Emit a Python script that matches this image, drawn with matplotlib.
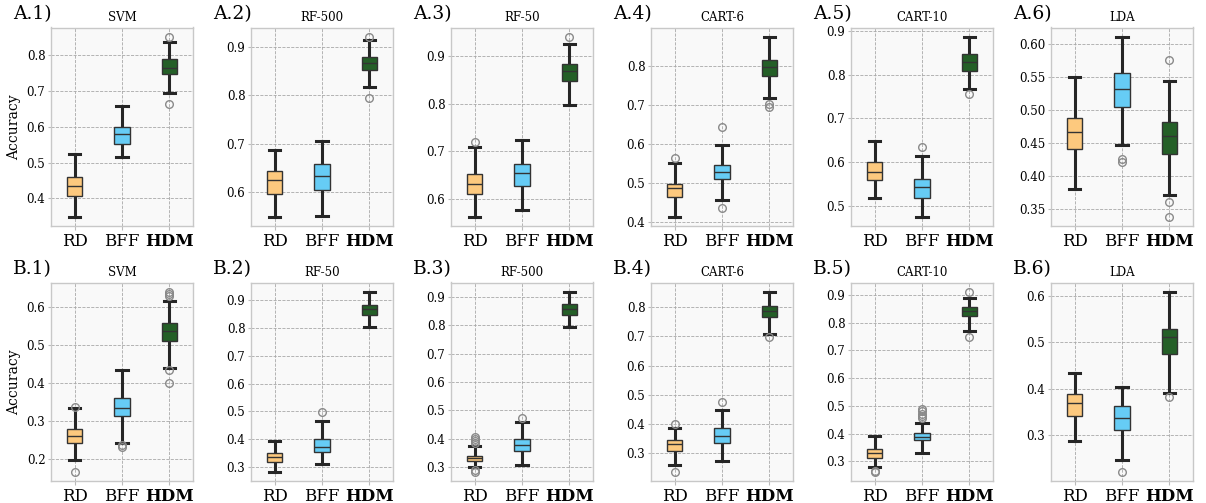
import matplotlib
matplotlib.use("Agg")
import matplotlib.pyplot as plt

plt.rcParams["font.family"] = ["DejaVu Serif"]

methods = ["RD", "BFF", "HDM"]
colors = ["#FDC97E", "#66CCF5", "#245F27"]

row_a_titles = ["SVM", "RF-500", "RF-50", "CART-6", "CART-10", "LDA"]
row_b_titles = ["SVM", "RF-50", "RF-500", "CART-6", "CART-10", "LDA"]

# five-number summaries per method: [whislo, q1, med, q3, whishi]
a1_stats = [[0.348, 0.407, 0.434, 0.461, 0.525], [0.516, 0.553, 0.580, 0.600, 0.659], [0.693, 0.748, 0.765, 0.789, 0.837]]
a1_fliers = [[], [], [0.852, 0.664]]
a2_stats = [[0.549, 0.597, 0.625, 0.644, 0.688], [0.552, 0.605, 0.633, 0.659, 0.705], [0.816, 0.852, 0.866, 0.879, 0.913]]
a2_fliers = [[], [], [0.921, 0.795]]
a3_stats = [[0.563, 0.610, 0.632, 0.652, 0.709], [0.577, 0.628, 0.654, 0.674, 0.723], [0.797, 0.848, 0.868, 0.883, 0.925]]
a3_fliers = [[0.719], [], [0.940]]
a4_stats = [[0.414, 0.464, 0.487, 0.499, 0.553], [0.457, 0.511, 0.530, 0.548, 0.599], [0.717, 0.775, 0.796, 0.815, 0.875]]
a4_fliers = [[0.564], [0.643, 0.438], [0.702, 0.696]]
a5_stats = [[0.518, 0.559, 0.577, 0.601, 0.648], [0.474, 0.517, 0.542, 0.562, 0.615], [0.768, 0.810, 0.830, 0.847, 0.888]]
a5_fliers = [[], [0.635], [0.755]]
a6_stats = [[0.381, 0.441, 0.467, 0.487, 0.550], [0.447, 0.504, 0.531, 0.556, 0.611], [0.372, 0.433, 0.461, 0.481, 0.543]]
a6_fliers = [[], [0.425, 0.421], [0.575, 0.360, 0.338]]

b1_stats = [[0.197, 0.244, 0.262, 0.280, 0.334], [0.242, 0.313, 0.334, 0.362, 0.434], [0.441, 0.512, 0.539, 0.558, 0.618]]
b1_fliers = [[0.337, 0.1665], [0.237, 0.231], [0.642, 0.636, 0.629, 0.434, 0.402]]
b2_stats = [[0.283, 0.320, 0.337, 0.350, 0.393], [0.312, 0.355, 0.374, 0.401, 0.466], [0.804, 0.845, 0.867, 0.883, 0.930]]
b2_fliers = [[], [0.498], []]
b3_stats = [[0.301, 0.322, 0.332, 0.341, 0.373], [0.306, 0.357, 0.379, 0.400, 0.460], [0.793, 0.836, 0.859, 0.876, 0.919]]
b3_fliers = [[0.406, 0.399, 0.391, 0.384, 0.290, 0.283], [0.472], []]
b4_stats = [[0.258, 0.307, 0.331, 0.344, 0.384], [0.270, 0.334, 0.357, 0.383, 0.445], [0.709, 0.767, 0.787, 0.805, 0.855]]
b4_fliers = [[0.400, 0.233], [0.473], [0.699]]
b5_stats = [[0.278, 0.313, 0.331, 0.343, 0.390], [0.331, 0.375, 0.387, 0.402, 0.439], [0.771, 0.823, 0.841, 0.857, 0.889]]
b5_fliers = [[0.266, 0.261], [0.490, 0.481, 0.471, 0.463, 0.455], [0.913, 0.747]]
b6_stats = [[0.286, 0.340, 0.369, 0.389, 0.433], [0.245, 0.311, 0.337, 0.362, 0.404], [0.391, 0.474, 0.511, 0.530, 0.610]]
b6_fliers = [[], [0.220], [0.383]]

row_a = [(a1_stats, a1_fliers), (a2_stats, a2_fliers), (a3_stats, a3_fliers),
         (a4_stats, a4_fliers), (a5_stats, a5_fliers), (a6_stats, a6_fliers)]
row_b = [(b1_stats, b1_fliers), (b2_stats, b2_fliers), (b3_stats, b3_fliers),
         (b4_stats, b4_fliers), (b5_stats, b5_fliers), (b6_stats, b6_fliers)]

W, H = 1206, 503
fig = plt.figure(figsize=(W / 100, H / 100), dpi=100)


def draw_panel(ax, stats, fliers, title, label, ylabel):
    bxp_stats = []
    for m, s, f in zip(methods, stats, fliers):
        bxp_stats.append({"label": m, "whislo": s[0], "q1": s[1], "med": s[2],
                          "q3": s[3], "whishi": s[4], "fliers": f})
    bp = ax.bxp(bxp_stats, positions=[1, 2, 3], widths=0.32, patch_artist=True,
                capwidths=0.24,
                boxprops=dict(edgecolor="#333333", linewidth=1.0),
                medianprops=dict(color="#333333", linewidth=1.0),
                whiskerprops=dict(color="#262626", linewidth=2.2),
                capprops=dict(color="#262626", linewidth=2.2),
                flierprops=dict(marker="o", markerfacecolor="none",
                                markeredgecolor="#8a8a8a", markersize=5.5,
                                markeredgewidth=1.0))
    for patch, c in zip(bp["boxes"], colors):
        patch.set_facecolor(c)
        patch.set_zorder(3)
    for med in bp["medians"]:
        med.set_zorder(4)
    ax.set_xlim(0.5, 3.5)
    ax.set_facecolor("#f9f9f9")
    ax.grid(True, color="#a8a8a8", linestyle="--", linewidth=0.6)
    ax.set_axisbelow(True)
    for sp in ax.spines.values():
        sp.set_color("#c8c8c8")
        sp.set_linewidth(1.0)
    ax.tick_params(axis="y", labelsize=8.5, length=2, color="#bbbbbb", pad=2)
    ax.tick_params(axis="x", labelsize=12, length=3, color="#bbbbbb", pad=2)
    ax.set_xticks([1, 2, 3])
    ax.set_xticklabels(methods)
    ax.get_xticklabels()[2].set_fontweight("bold")
    ax.set_title(title, fontsize=8.5, pad=5)
    ax.text(-0.27, 1.04, label, transform=ax.transAxes, fontsize=13.5,
            va="baseline", ha="left")
    if ylabel:
        ax.set_ylabel("Accuracy", fontsize=10, labelpad=4)


for row, (data, titles, letter, top, bottom) in enumerate([
        (row_a, row_a_titles, "A", 27.5, 226.0),
        (row_b, row_b_titles, "B", 282.5, 481.0)]):
    for i, ((stats, fliers), title) in enumerate(zip(data, titles)):
        left = 51 + 200 * i
        ax = fig.add_axes([left / W, 1 - bottom / H, 142 / W, (bottom - top) / H])
        draw_panel(ax, stats, fliers, title, f"{letter}.{i + 1})", i == 0)

fig.savefig("out.png", dpi=100)
